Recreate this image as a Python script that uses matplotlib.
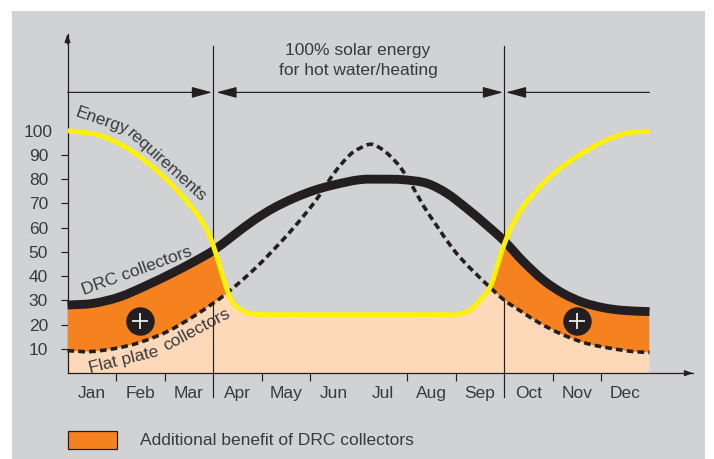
import matplotlib
matplotlib.use("Agg")
import matplotlib.pyplot as plt
from matplotlib.patches import Patch, PathPatch
from matplotlib.path import Path

plt.rcParams["font.family"] = ["Liberation Sans", "DejaVu Sans"]

# =========================================================
# DATA (x in months from start of Jan)
# =========================================================
months = ["Jan", "Feb", "Mar", "Apr", "May", "Jun", "Jul", "Aug", "Sep", "Oct", "Nov", "Dec"]
y_ticks = [10, 20, 30, 40, 50, 60, 70, 80, 90, 100]

drc_x = [0, 0.53, 1.08, 1.63, 2.18, 2.59, 3.0, 3.42, 3.83, 4.24, 4.66, 5.07, 5.48, 6.03, 6.5, 6.92, 7.41, 7.82, 8.23, 8.64, 9.0, 9.4, 9.81, 10.22, 10.63, 11.05, 11.46, 12]
drc_y = [28.1, 28.8, 31.5, 36.2, 41.5, 45.8, 50.5, 56.8, 62.9, 68, 72.1, 75.3, 77.6, 79.8, 80, 79.8, 78.3, 74.2, 68, 61.1, 54.6, 46, 38.4, 32.9, 29.2, 27, 25.9, 25.4]

flat_x = [0, 0.46, 1.01, 1.49, 2.05, 2.59, 3.0, 3.28, 3.76, 4.11, 4.62, 5.1, 5.52, 5.82, 6.03, 6.27, 6.51, 6.68, 6.86, 7.1, 7.34, 7.63, 7.89, 8.09, 8.44, 8.75, 9.0, 9.36, 9.74, 10.22, 10.7, 11.19, 11.67, 12]
flat_y = [9.3, 8.9, 10.3, 12.7, 17.1, 23.3, 28.8, 32.9, 41.2, 48, 59, 70.7, 83.1, 90, 92.8, 94.4, 92, 89, 85, 77.5, 69, 60.3, 52.8, 47.8, 40.6, 34.7, 30.2, 25.4, 20.6, 15.8, 12.3, 10.3, 8.9, 8.6]

energy_x = [0, 0.67, 1.35, 2.05, 2.6, 2.85, 3.0, 3.14, 3.28, 3.42, 3.69, 3.97, 4.2, 7.8, 8.03, 8.3, 8.5, 8.72, 8.88, 9.0, 9.19, 9.47, 9.95, 10.5, 11.05, 11.53, 12]
energy_y = [100, 98, 91.3, 79.7, 67.5, 60, 53, 44, 35, 28.8, 25.1, 24.2, 24.1, 24.1, 24.2, 26, 30, 35.7, 45.3, 52.9, 61.8, 70.7, 81, 89.3, 95.5, 98.9, 99.8]

plus_x = [1.495, 10.5]
plus_y = [21.5, 21.5]

# =========================================================
# COLOURS
# =========================================================
GREY = "#d1d2d4"
ORANGE = "#f6821f"
PEACH = "#fdd9b9"
YELLOW = "#fff200"
BLACK = "#231f20"
TEXT = "#3a3a3c"
FS = 12.5

# =========================================================
# SMOOTH DRAWING OF THE READ POINTS
# =========================================================
def curve(xs, ys):
    # bezier segments through the points, tangents from the neighbours
    n = len(xs)
    m = [0.0] * n
    for i in range(n):
        a, b = max(i - 1, 0), min(i + 1, n - 1)
        m[i] = (ys[b] - ys[a]) / (xs[b] - xs[a])
    verts = [(xs[0], ys[0])]
    codes = [Path.MOVETO]
    for i in range(n - 1):
        h = (xs[i + 1] - xs[i]) / 3
        verts += [(xs[i] + h, ys[i] + m[i] * h),
                  (xs[i + 1] - h, ys[i + 1] - m[i + 1] * h),
                  (xs[i + 1], ys[i + 1])]
        codes += [Path.CURVE4] * 3
    return verts, codes

def closed(verts, codes, extra):
    v = verts + extra + [verts[0]]
    c = codes + [Path.LINETO] * len(extra) + [Path.CLOSEPOLY]
    return Path(v, c)

# =========================================================
# FIGURE
# =========================================================
fig = plt.figure(figsize=(7.14, 4.59), dpi=100, facecolor="white")
fig.add_artist(plt.Rectangle((12 / 714, 0), 693 / 714, 448 / 459, transform=fig.transFigure,
                             facecolor=GREY, edgecolor="none", zorder=-1))

ax = fig.add_axes([67.5 / 714, (459 - 373.2) / 459, 625.5 / 714, 339.2 / 459])
ax.patch.set_visible(False)
ax.set_xlim(0, 625.5 / 48.5)
ax.set_ylim(0, 339.2 / 2.425)

for s in ["top", "right"]:
    ax.spines[s].set_visible(False)
for s in ["left", "bottom"]:
    ax.spines[s].set_linewidth(0.9)
    ax.spines[s].set_color(BLACK)

# axis arrow heads
ax.annotate("", xy=(1, 0), xytext=(0.985, 0), xycoords="axes fraction", textcoords="axes fraction",
            arrowprops=dict(arrowstyle="-|>,head_length=5,head_width=1.8", mutation_scale=1,
                            color=BLACK, lw=0.8, shrinkA=0, shrinkB=0))
ax.annotate("", xy=(0, 1), xytext=(0, 0.97), xycoords="axes fraction", textcoords="axes fraction",
            arrowprops=dict(arrowstyle="-|>,head_length=5,head_width=1.8", mutation_scale=1,
                            color=BLACK, lw=0.8, shrinkA=0, shrinkB=0))

# =========================================================
# FILLS (both stay under the yellow curve)
# =========================================================
drc_v, drc_c = curve(drc_x, drc_y)
flat_v, flat_c = curve(flat_x, flat_y)
energy_v, energy_c = curve(energy_x, energy_y)

under_energy = PathPatch(closed(energy_v, energy_c, [(12, 0), (0, 0)]), transform=ax.transData)

peach = PathPatch(closed(flat_v, flat_c, [(12, 0), (0, 0)]), facecolor=PEACH, lw=0, zorder=1)
ax.add_patch(peach)
peach.set_clip_path(under_energy)

# dividers between winter and summer periods
for m in [3, 9]:
    ax.plot([m, m], [-9.9, 135], color=BLACK, lw=0.85, clip_on=False, zorder=2)

flat_back_v, flat_back_c = curve(flat_x[::-1], flat_y[::-1])
orange = PathPatch(Path(drc_v + flat_back_v + [drc_v[0]],
                        drc_c + [Path.LINETO] + flat_back_c[1:] + [Path.CLOSEPOLY]),
                   facecolor=ORANGE, lw=0, zorder=3)
ax.add_patch(orange)
orange.set_clip_path(under_energy)

# =========================================================
# CURVES
# =========================================================
ax.add_patch(PathPatch(Path(flat_v, flat_c), fill=False, edgecolor=BLACK, lw=2.6,
                       ls=(0, (1.85, 1.15)), capstyle="butt", zorder=4, clip_on=False))
ax.add_patch(PathPatch(Path(drc_v, drc_c), fill=False, edgecolor=BLACK, lw=6.4,
                       capstyle="butt", zorder=5, clip_on=False))
ax.add_patch(PathPatch(Path(energy_v, energy_c), fill=False, edgecolor=YELLOW, lw=3.5,
                       capstyle="butt", zorder=6, clip_on=False))

ax.scatter(plus_x, plus_y, s=420, color=BLACK, lw=0, zorder=7)
ax.scatter(plus_x, plus_y, s=130, marker="+", color="white", lw=1.2, zorder=8)

# =========================================================
# TICKS
# =========================================================
ax.set_yticks(y_ticks)
ax.set_yticklabels([str(v) for v in y_ticks], fontsize=FS, color=TEXT, ha="center")
ax.tick_params(axis="y", length=5, width=0.85, color=BLACK, pad=15.9)
ax.yaxis.get_major_ticks()[-1].tick1line.set_visible(False)

ax.set_xticks([1, 2, 4, 5, 7, 8, 10, 11])
ax.set_xticklabels([])
ax.tick_params(axis="x", which="major", length=5.5, width=0.85, color=BLACK)
ax.set_xticks([i + 0.5 for i in range(12)], minor=True)
ax.set_xticklabels(months, minor=True, fontsize=FS, color=TEXT)
ax.tick_params(axis="x", which="minor", length=0, pad=9.5)

# =========================================================
# PERIOD ARROWS
# =========================================================
arrow_y = 115.8
for x0, x1, style in [(0, 2.98, "-|>"), (3.07, 8.98, "<|-|>"), (9.04, 12, "<|-")]:
    ax.annotate("", xy=(x1, arrow_y), xytext=(x0, arrow_y),
                arrowprops=dict(arrowstyle=style + ",head_length=12.5,head_width=3.4", mutation_scale=1,
                                color=BLACK, lw=0.85, shrinkA=0, shrinkB=0))

ax.text(5.99, 129, "100% solar energy\nfor hot water/heating", fontsize=FS, color=TEXT,
        ha="center", va="center", linespacing=1.37)

# =========================================================
# CURVE LABELS
# =========================================================
labels = [
    ("Energy", 0.71, 104, -19),
    ("requirements", 2.05, 85.6, -42),
    ("DRC collectors", 1.44, 42, 20),
    ("Flat plate", 1.16, 5.4, 14),
    ("collectors", 2.67, 17.8, 28),
]
for txt, x, y, rot in labels:
    ax.text(x, y, txt, fontsize=FS, color=TEXT, rotation=rot, rotation_mode="anchor",
            ha="center", va="center", zorder=9)

# =========================================================
# LEGEND
# =========================================================
ax.legend(handles=[Patch(facecolor=ORANGE, edgecolor=BLACK, lw=0.9,
                         label="Additional benefit of DRC collectors")],
          loc="lower left", bbox_to_anchor=(67.7 / 714, 10.5 / 459), bbox_transform=fig.transFigure,
          frameon=False, fontsize=FS, labelcolor=TEXT, borderpad=0, borderaxespad=0,
          handlelength=2.82, handleheight=1.2, handletextpad=1.34)

fig.savefig("out.png", dpi=100)
